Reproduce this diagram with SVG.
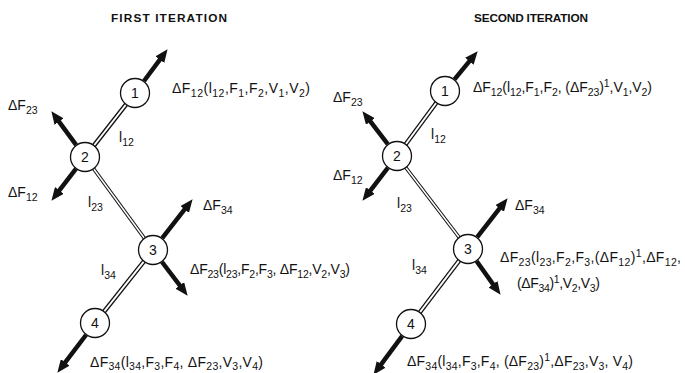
<svg xmlns="http://www.w3.org/2000/svg" width="685" height="373" viewBox="0 0 685 373">
  <defs>
    <style>
      text { font-family: "Liberation Sans", Arial, Helvetica, sans-serif; fill: #111; }
      .title { font-size: 11.8px; font-weight: bold; }
      .lbl { font-size: 14px; }
      .s { font-size: 10.5px; }
      .num { font-size: 14px; text-anchor: middle; }
      .node { fill: #fff; stroke: #111; stroke-width: 1.3; }
      .rail { stroke: #111; stroke-width: 4.5; }
      .rail-thin { stroke: #111; stroke-width: 3.6; }
      .gap { stroke: #fff; stroke-width: 2; }
      .gap-thin { stroke: #fff; stroke-width: 1.5; }
      .force { stroke: #111; stroke-width: 4.5; fill: none; marker-end: url(#head); }
    </style>
    <marker id="head" markerUnits="userSpaceOnUse" markerWidth="13" markerHeight="11" refX="6" refY="5.5" orient="auto" viewBox="0 0 13 11">
      <path d="M0,0 L13,5.5 L0,11 z" fill="#111"/>
    </marker>
  </defs>
  <rect width="685" height="373" fill="#fff"/>

  <!-- titles -->
  <text class="title" x="111" y="22" textLength="116" lengthAdjust="spacing">FIRST ITERATION</text>
  <text class="title" x="474" y="22" textLength="114" lengthAdjust="spacing">SECOND ITERATION</text>

  <!-- double-line links between nodes -->
  <g id="links">
    <line class="rail" x1="135" y1="93" x2="85" y2="157"/>
    <line class="gap" x1="135" y1="93" x2="85" y2="157"/>
    <line class="rail-thin" x1="85" y1="157" x2="153" y2="250"/>
    <line class="gap-thin" x1="85" y1="157" x2="153" y2="250"/>
    <line class="rail" x1="153" y1="250" x2="95" y2="323"/>
    <line class="gap" x1="153" y1="250" x2="95" y2="323"/>

    <line class="rail" x1="445" y1="91" x2="397" y2="156"/>
    <line class="gap" x1="445" y1="91" x2="397" y2="156"/>
    <line class="rail-thin" x1="397" y1="156" x2="468" y2="249"/>
    <line class="gap-thin" x1="397" y1="156" x2="468" y2="249"/>
    <line class="rail" x1="468" y1="249" x2="411" y2="324"/>
    <line class="gap" x1="468" y1="249" x2="411" y2="324"/>
  </g>

  <!-- force arrows -->
  <g id="forces">
    <line class="force" x1="144" y1="81" x2="163.4" y2="54.8"/>
    <line class="force" x1="76.1" y1="144.9" x2="55.5" y2="116.8"/>
    <line class="force" x1="75.9" y1="168.9" x2="55.7" y2="195.2"/>
    <line class="force" x1="162.2" y1="238.2" x2="188.3" y2="204.7"/>
    <line class="force" x1="162" y1="262" x2="183.4" y2="290.2"/>
    <line class="force" x1="86" y1="335" x2="61.6" y2="367.2"/>

    <line class="force" x1="454.5" y1="79.4" x2="473.2" y2="56.6"/>
    <line class="force" x1="387.8" y1="144.1" x2="366.7" y2="116.7"/>
    <line class="force" x1="387.8" y1="167.9" x2="366.7" y2="195.3"/>
    <line class="force" x1="477.2" y1="237.2" x2="503.3" y2="203.7"/>
    <line class="force" x1="476.7" y1="261.2" x2="496.5" y2="289.1"/>
    <line class="force" x1="402.1" y1="336.1" x2="377.6" y2="369.2"/>
  </g>

  <!-- first iteration nodes -->
  <g id="a-n1"><circle class="node" cx="135" cy="93" r="14.5"/><text class="num" x="135" y="98">1</text></g>
  <g id="a-n2"><circle class="node" cx="85" cy="157" r="14.5"/><text class="num" x="85" y="162">2</text></g>
  <g id="a-n3"><circle class="node" cx="153" cy="250" r="14.5"/><text class="num" x="153" y="255">3</text></g>
  <g id="a-n4"><circle class="node" cx="95" cy="323" r="14.5"/><text class="num" x="95" y="328">4</text></g>

  <!-- second iteration nodes -->
  <g id="b-n1"><circle class="node" cx="445" cy="91" r="14.5"/><text class="num" x="445" y="96">1</text></g>
  <g id="b-n2"><circle class="node" cx="397" cy="156" r="14.5"/><text class="num" x="397" y="161">2</text></g>
  <g id="b-n3"><circle class="node" cx="468" cy="249" r="14.5"/><text class="num" x="468" y="254">3</text></g>
  <g id="b-n4"><circle class="node" cx="411" cy="324" r="14.5"/><text class="num" x="411" y="329">4</text></g>

  <!-- first iteration labels -->
  <g id="a-labels">
    <text class="lbl" x="172" y="93" textLength="138" lengthAdjust="spacing">ΔF<tspan class="s" dy="4">12</tspan><tspan dy="-4">(l</tspan><tspan class="s" dy="4">12</tspan><tspan dy="-4">,F</tspan><tspan class="s" dy="4">1</tspan><tspan dy="-4">,F</tspan><tspan class="s" dy="4">2</tspan><tspan dy="-4">,V</tspan><tspan class="s" dy="4">1</tspan><tspan dy="-4">,V</tspan><tspan class="s" dy="4">2</tspan><tspan dy="-4">)</tspan></text>
    <text class="lbl" x="8" y="110">ΔF<tspan class="s" dy="4">23</tspan></text>
    <text class="lbl" x="119" y="142">l<tspan class="s" dy="4">12</tspan></text>
    <text class="lbl" x="8" y="197">ΔF<tspan class="s" dy="4">12</tspan></text>
    <text class="lbl" x="88" y="207">l<tspan class="s" dy="4">23</tspan></text>
    <text class="lbl" x="203" y="210">ΔF<tspan class="s" dy="4">34</tspan></text>
    <text class="lbl" x="101" y="275">l<tspan class="s" dy="4">34</tspan></text>
    <text class="lbl" x="190" y="274" textLength="160" lengthAdjust="spacing">ΔF<tspan class="s" dy="4">23</tspan><tspan dy="-4">(l</tspan><tspan class="s" dy="4">23</tspan><tspan dy="-4">,F</tspan><tspan class="s" dy="4">2</tspan><tspan dy="-4">,F</tspan><tspan class="s" dy="4">3</tspan><tspan dy="-4">, ΔF</tspan><tspan class="s" dy="4">12</tspan><tspan dy="-4">,V</tspan><tspan class="s" dy="4">2</tspan><tspan dy="-4">,V</tspan><tspan class="s" dy="4">3</tspan><tspan dy="-4">)</tspan></text>
    <text class="lbl" x="90" y="366.5" textLength="173" lengthAdjust="spacing">ΔF<tspan class="s" dy="3.5">34</tspan><tspan dy="-3.5">(l</tspan><tspan class="s" dy="3.5">34</tspan><tspan dy="-3.5">,F</tspan><tspan class="s" dy="3.5">3</tspan><tspan dy="-3.5">,F</tspan><tspan class="s" dy="3.5">4</tspan><tspan dy="-3.5">, ΔF</tspan><tspan class="s" dy="3.5">23</tspan><tspan dy="-3.5">,V</tspan><tspan class="s" dy="3.5">3</tspan><tspan dy="-3.5">,V</tspan><tspan class="s" dy="3.5">4</tspan><tspan dy="-3.5">)</tspan></text>
  </g>

  <!-- second iteration labels -->
  <g id="b-labels">
    <text class="lbl" x="473" y="92" textLength="179" lengthAdjust="spacing">ΔF<tspan class="s" dy="4">12</tspan><tspan dy="-4">(l</tspan><tspan class="s" dy="4">12</tspan><tspan dy="-4">,F</tspan><tspan class="s" dy="4">1</tspan><tspan dy="-4">,F</tspan><tspan class="s" dy="4">2</tspan><tspan dy="-4">, (ΔF</tspan><tspan class="s" dy="4">23</tspan><tspan dy="-4">)</tspan><tspan class="s" dy="-5">1</tspan><tspan dy="5">,V</tspan><tspan class="s" dy="4">1</tspan><tspan dy="-4">,V</tspan><tspan class="s" dy="4">2</tspan><tspan dy="-4">)</tspan></text>
    <text class="lbl" x="333" y="102">ΔF<tspan class="s" dy="4">23</tspan></text>
    <text class="lbl" x="431" y="139">l<tspan class="s" dy="4">12</tspan></text>
    <text class="lbl" x="333" y="180">ΔF<tspan class="s" dy="4">12</tspan></text>
    <text class="lbl" x="397" y="208">l<tspan class="s" dy="4">23</tspan></text>
    <text class="lbl" x="515" y="210">ΔF<tspan class="s" dy="4">34</tspan></text>
    <text class="lbl" x="412" y="270">l<tspan class="s" dy="4">34</tspan></text>
    <text class="lbl" x="500" y="262" textLength="181" lengthAdjust="spacing">ΔF<tspan class="s" dy="4">23</tspan><tspan dy="-4">(l</tspan><tspan class="s" dy="4">23</tspan><tspan dy="-4">,F</tspan><tspan class="s" dy="4">2</tspan><tspan dy="-4">,F</tspan><tspan class="s" dy="4">3</tspan><tspan dy="-4">,(ΔF</tspan><tspan class="s" dy="4">12</tspan><tspan dy="-4">)</tspan><tspan class="s" dy="-5">1</tspan><tspan dy="5">,ΔF</tspan><tspan class="s" dy="4">12</tspan><tspan dy="-4">,</tspan></text>
    <text class="lbl" x="517" y="288" textLength="83" lengthAdjust="spacing">(ΔF<tspan class="s" dy="4">34</tspan><tspan dy="-4">)</tspan><tspan class="s" dy="-5">1</tspan><tspan dy="5">,V</tspan><tspan class="s" dy="4">2</tspan><tspan dy="-4">,V</tspan><tspan class="s" dy="4">3</tspan><tspan dy="-4">)</tspan></text>
    <text class="lbl" x="407" y="366" textLength="226" lengthAdjust="spacing">ΔF<tspan class="s" dy="3.5">34</tspan><tspan dy="-3.5">(l</tspan><tspan class="s" dy="3.5">34</tspan><tspan dy="-3.5">,F</tspan><tspan class="s" dy="3.5">3</tspan><tspan dy="-3.5">,F</tspan><tspan class="s" dy="3.5">4</tspan><tspan dy="-3.5">, (ΔF</tspan><tspan class="s" dy="3.5">23</tspan><tspan dy="-3.5">)</tspan><tspan class="s" dy="-5">1</tspan><tspan dy="5">,ΔF</tspan><tspan class="s" dy="3.5">23</tspan><tspan dy="-3.5">,V</tspan><tspan class="s" dy="3.5">3</tspan><tspan dy="-3.5">, V</tspan><tspan class="s" dy="3.5">4</tspan><tspan dy="-3.5">)</tspan></text>
  </g>
</svg>
